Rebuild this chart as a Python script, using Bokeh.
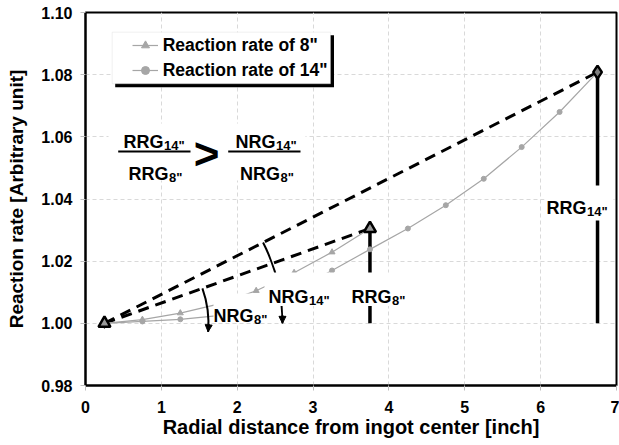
import math
from bokeh.plotting import figure
from bokeh.models import (Label, BoxAnnotation, Legend, LegendItem, FixedTicker,
                          PrintfTickFormatter, Arrow, NormalHead)
from bokeh.embed import file_html
from bokeh.resources import INLINE

# ---------------- data ----------------
x_8in = [0.25, 0.75, 1.25, 1.75, 2.25, 2.75, 3.25, 3.75]
rate_8in = [1.0000, 1.0012, 1.0033, 1.0062, 1.0105, 1.0163, 1.0229, 1.0305]
x_14in = [0.25, 0.75, 1.25, 1.75, 2.25, 2.75, 3.25, 3.75, 4.25, 4.75, 5.25, 5.75, 6.25, 6.75]
rate_14in = [1.0000, 1.0006, 1.0013, 1.0025, 1.0050, 1.0105, 1.0170, 1.0238,
             1.0305, 1.0380, 1.0465, 1.0567, 1.0680, 1.0808]
x_ticks = [0, 1, 2, 3, 4, 5, 6, 7]
y_ticks = [0.98, 1.00, 1.02, 1.04, 1.06, 1.08, 1.10]
legend_labels = ['Reaction rate of 8"', 'Reaction rate of 14"']
x_title = "Radial distance from ingot center [inch]"
y_title = "Reaction rate [Arbitrary unit]"

# ---------------- layout helpers ----------------
W, H = 619, 445
ML, MR, MT, MB = 85, 3, 12, 60
X0, X1, Y0, Y1 = 0, 7, 0.98, 1.10
PXX = (W - ML - MR) / (X1 - X0)
PXY = (H - MT - MB) / (Y1 - Y0)


def dx(px):
    return X0 + (px - ML) / PXX


def dy(py):
    return Y1 - (py - MT) / PXY


FONT = "Liberation Sans"
GREY = "#a6a6a6"

p = figure(width=W, height=H, x_range=(X0, X1), y_range=(Y0, Y1),
           output_backend="svg", toolbar_location=None,
           min_border_left=ML, min_border_right=MR,
           min_border_top=MT, min_border_bottom=MB)
p.background_fill_color = "white"
p.border_fill_color = "white"
p.outline_line_color = "black"
p.outline_line_width = 2

p.xaxis.ticker = FixedTicker(ticks=x_ticks)
p.yaxis.ticker = FixedTicker(ticks=y_ticks)
p.xaxis.formatter = PrintfTickFormatter(format="%d")
p.yaxis.formatter = PrintfTickFormatter(format="%.2f")
for ax in (p.xaxis, p.yaxis):
    ax.axis_line_color = "black"
    ax.axis_line_width = 2
    ax.major_tick_line_color = "#bfbfbf"
    ax.major_tick_in = 0
    ax.major_tick_out = 5
    ax.minor_tick_line_color = None
    ax.major_label_text_font = FONT
    ax.major_label_text_font_style = "bold"
    ax.major_label_text_font_size = "16px"
    ax.major_label_text_color = "black"
    ax.axis_label_text_font = FONT
    ax.axis_label_text_font_style = "bold"
    ax.axis_label_text_color = "black"
p.xaxis.axis_label_text_font_size = "20px"
p.yaxis.axis_label_text_font_size = "19px"
p.xaxis.axis_label = x_title
p.yaxis.axis_label = y_title
p.xaxis.major_label_standoff = 10
p.xaxis.axis_label_standoff = 0
p.yaxis.major_label_standoff = 8
p.yaxis.axis_label_standoff = 11

p.grid.grid_line_color = "#d9d9d9"
p.grid.grid_line_dash = "4 3"
p.grid.grid_line_width = 1

# ---------------- glyphs ----------------
ox, oy = x_8in[0], rate_8in[0]

# RRG vertical bars
p.segment(x0=[x_8in[-1], x_14in[-1]], y0=[rate_8in[0], rate_14in[0]],
          x1=[x_8in[-1], x_14in[-1]], y1=[rate_8in[-1], rate_14in[-1]],
          line_color="black", line_width=3.5)

# chord dashed lines
p.segment(x0=[ox, ox], y0=[oy, oy], x1=[x_8in[-1], x_14in[-1]],
          y1=[rate_8in[-1], rate_14in[-1]], line_color="black",
          line_width=3, line_dash="11 7")

# series
r8l = p.line(x_8in, rate_8in, line_color=GREY, line_width=1.2)
r8m = p.scatter(x_8in, rate_8in, marker="triangle", size=6, fill_color=GREY, line_color=GREY)
r14l = p.line(x_14in, rate_14in, line_color=GREY, line_width=1.2)
r14m = p.scatter(x_14in, rate_14in, marker="circle", size=5, fill_color=GREY, line_color=GREY)

# highlighted end points
p.scatter([ox], [oy], marker="diamond", size=10, fill_color="black", line_color="black")
p.scatter([ox, x_8in[-1]], [oy, rate_8in[-1]], marker="triangle", size=12,
          fill_color="#9a9a9a", line_color="black", line_width=2.5)
p.scatter([x_14in[-1]], [rate_14in[-1]], marker="diamond", size=13,
          fill_color="#7f7f7f", line_color="black", line_width=2.5)


# arcs (NRG)
def ang(xe, ye):
    return math.atan2((ye - oy) * PXY, (xe - ox) * PXX)


th8 = ang(x_8in[-1], rate_8in[-1])
th14 = ang(x_14in[-1], rate_14in[-1])
R8, R14 = 104, 178
END8, END14 = math.radians(-4.7), 0.0
p.arc(x=[ox, ox], y=[oy, oy], radius=[R8, R14], radius_units="screen",
      start_angle=[th8, th14], end_angle=[END8, END14], direction="clock",
      line_color="black", line_width=2)


def box(l, r, t, b, color="white", line_color=None, lw=1):
    p.add_layout(BoxAnnotation(left=dx(l), right=dx(r), top=dy(t), bottom=dy(b),
                               fill_color=color, fill_alpha=1.0,
                               line_color=line_color, line_width=lw,
                               level="annotation"))


# white covers behind texts
box(108, 305, 123, 180)
box(213, 270, 293, 322)
box(264, 412, 272, 305.5)
box(544, 613, 185, 220)

# legend frame + shadow
box(114.7, 333.5, 34.7, 86.8, color="black")
box(111.7, 330, 31.7, 83.3, color="white", line_color="#d0d0d0")

legend = Legend(items=[LegendItem(label=legend_labels[0], renderers=[r8l, r8m]),
                       LegendItem(label=legend_labels[1], renderers=[r14l, r14m])],
                location=(46.7, 304.5), padding=0, spacing=4, margin=0,
                glyph_width=26, glyph_height=20, label_height=20, label_standoff=5,
                border_line_alpha=0, background_fill_alpha=0,
                label_text_font=FONT, label_text_font_style="bold",
                label_text_font_size="17.5px", label_text_color="black")
p.add_layout(legend, "center")


def txt(s, px, py, size, align="left", baseline="alphabetic"):
    p.add_layout(Label(x=dx(px), y=dy(py), text=s, text_font=FONT,
                       text_font_style="bold", text_font_size=f"{size}px",
                       text_align=align, text_baseline=baseline, text_color="black"))


def sublabel(main, sub, px, py, size, subsize):
    txt(main, px, py, size)
    txt(sub, px + 2.222 * size + 0.5, py + 3.5, subsize)


# fraction RRG
FR, FS = 18, 13
sublabel("RRG", '14"', 123, 141.5, FR, FS)
sublabel("RRG", '8"', 128, 173.5, FR, FS)
box(117.7, 190, 150, 152, color="black")
txt(">", 206, 153, 44, align="center", baseline="middle")
# fraction NRG
sublabel("NRG", '14"', 235, 141.5, FR, FS)
sublabel("NRG", '8"', 239.5, 173.5, FR, FS)
box(227.7, 300, 150, 152, color="black")

# gap labels
GR, GS = 18, 13
sublabel("NRG", '8"', 213, 315, GR, GS)
sublabel("NRG", '14"', 268, 296.5, GR, GS)
sublabel("RRG", '8"', 351, 296.5, GR, GS)
sublabel("RRG", '14"', 546, 207.5, GR, GS)

# arrow heads at arc ends
for r, phi in ((R8, END8), (R14, END14)):
    xe = ox + r * math.cos(phi) / PXX
    ye = oy + r * math.sin(phi) / PXY
    tx, ty = math.sin(phi), -math.cos(phi)
    xs = xe - 8 * tx / PXX
    ys = ye - 8 * ty / PXY
    p.add_layout(Arrow(end=NormalHead(size=7, fill_color="black", line_color="black"),
                       x_start=xs, y_start=ys, x_end=xe, y_end=ye,
                       line_width=2, line_color="black"))

open("out.html", "w").write(file_html(p, INLINE))
